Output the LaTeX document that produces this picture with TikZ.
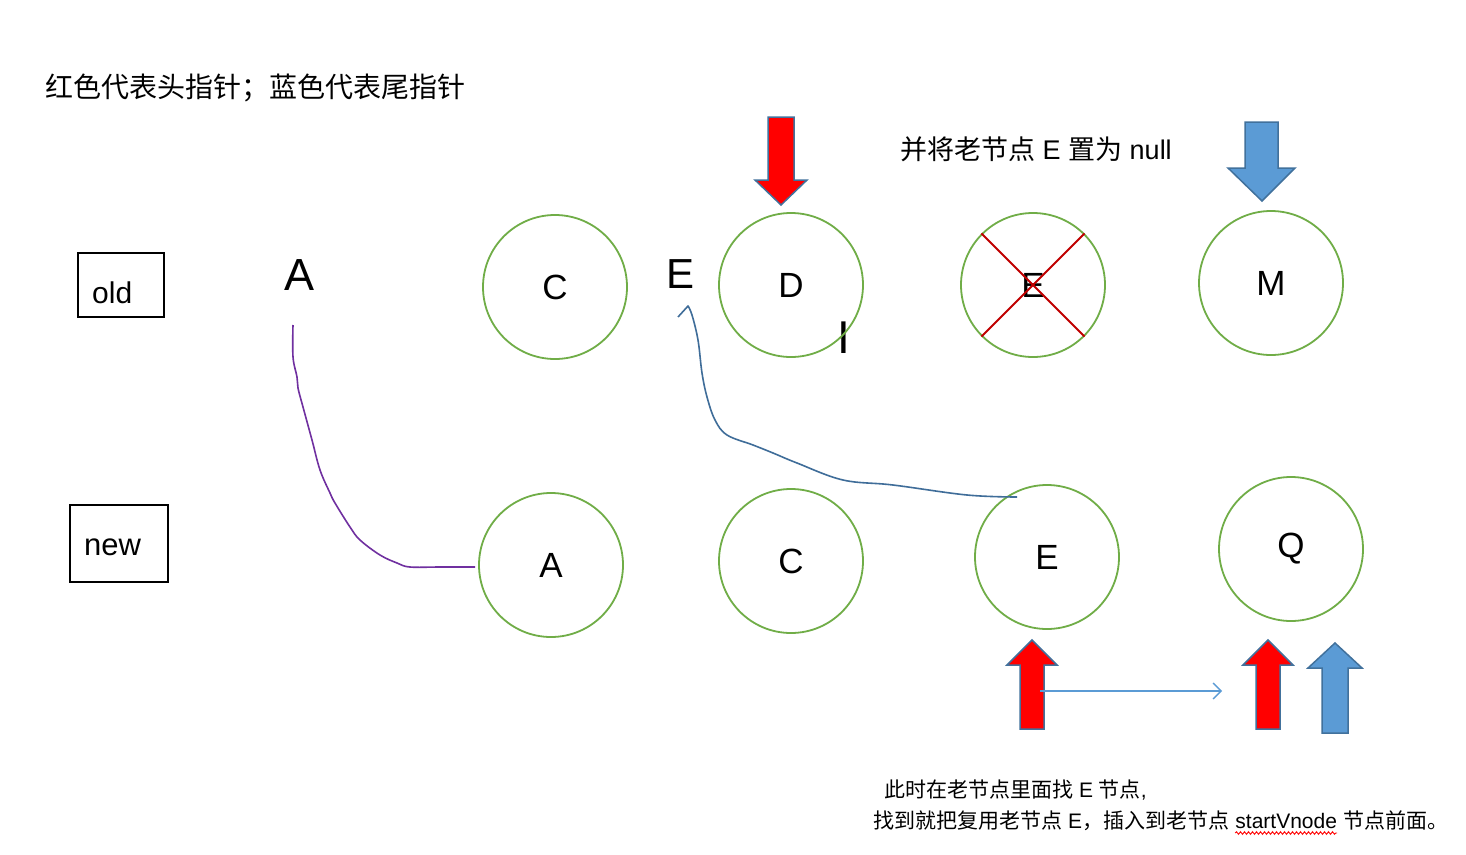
\documentclass[tikz,border=0pt]{standalone}
\usepackage{fontspec}
\setmainfont{Liberation Sans}
\newfontfamily\cjk{Noto Sans CJK SC}
\usetikzlibrary{arrows.meta,decorations.pathmorphing}
\definecolor{cgreen}{HTML}{70AD47}
\definecolor{cred}{HTML}{FF0000}
\definecolor{cblue}{HTML}{5B9BD5}
\definecolor{cborder}{HTML}{41719C}
\definecolor{cpurple}{HTML}{7030A0}
\definecolor{ccurve}{HTML}{3F6D99}
\definecolor{cx}{HTML}{C00000}
\begin{document}
\begin{tikzpicture}[x=1pt,y=-1pt,
  circ/.style={circle,draw=cgreen,line width=1.8pt,minimum size=144pt,inner sep=0pt,font=\fontsize{35}{40}\selectfont},
  box/.style={draw=black,line width=1.8pt,inner sep=0pt},
  txt/.style={inner sep=0pt},
  redarrow/.style={fill=cred,draw=cborder,line width=1.5pt,line join=miter},
  bluearrow/.style={fill=cblue,draw=cborder,line width=1.5pt,line join=miter}]
\useasboundingbox (0,0) rectangle (1466,854);
\fill[white] (0,0) rectangle (1466,854);

% title
\node[txt,anchor=west,font=\cjk\fontsize{28}{32}\selectfont] (title) at (45,88) {红色代表头指针；蓝色代表尾指针};
\node[txt,anchor=west,font=\fontsize{27}{32}\selectfont] (nullnote) at (900,149) {{\cjk 并将老节点} E {\cjk 置为} null};

% boxes
\node[box,minimum width=86pt,minimum height=64pt] (oldbox) at (121,285) {};
\node[txt,anchor=west,font=\fontsize{30}{36}\selectfont] (oldtxt) at (92,293) {old};
\node[box,minimum width=98pt,minimum height=77pt] (newbox) at (119,543.5) {};
\node[txt,anchor=west,font=\fontsize{31}{36}\selectfont] (newtxt) at (84,547) {new};

% loose labels
\node[txt,font=\fontsize{45}{50}\selectfont] (lblA) at (300,275) {A};
\node[txt,font=\fontsize{42}{48}\selectfont] (lblE) at (680,274) {E};
\node[txt,font=\fontsize{46}{50}\selectfont] (lblI) at (844,338) {I};

% old row
\node[circ] (oC) at (555,287) {C};
\node[circ] (oD) at (791,285) {D};
\node[circ] (oE) at (1033,285) {E};
\node[circ] (oM) at (1271,283) {M};
\draw[cx,line width=1.8pt] (oE.135) -- (oE.-45);
\draw[cx,line width=1.8pt] (oE.45) -- (oE.-135);

% new row
\node[circ] (nA) at (551,565) {A};
\node[circ] (nC) at (791,561) {C};
\node[circ] (nE) at (1047,557) {E};
\node[circ] (nQ) at (1291,549) {Q};

% hand-drawn connectors
\coordinate (pA) at (293,325);
\draw[cpurple,line width=1.6pt] (pA) -- plot[smooth,tension=0.6] coordinates {(293,325) (293,357) (297,377) (298,388) (303,407) (312,440) (320,470) (330,493) (335,503) (350,527) (360,540) (380,555) (397,563) (410,567) (440,567) (475,567)};
\coordinate (pE0) at (678,317);
\coordinate (pE1) at (688,306);
\draw[ccurve,line width=1.6pt,line join=round] (pE0) -- (pE1) -- plot[smooth,tension=0.6] coordinates {(688,306) (692,315) (698,340) (702,373) (707,397) (715,420) (727,435) (753,445) (773,453) (797,463) (843,480) (893,485) (967,495) (1017,497)};

% pointer arrows
\draw[redarrow] (768,117) -- (794,117) -- (794,180) -- (807,180) -- (781,205) -- (755,180) -- (768,180) -- cycle;
\draw[bluearrow] (1245,122) -- (1278,122) -- (1278,168) -- (1295,168) -- (1262,201) -- (1228,168) -- (1245,168) -- cycle;
\draw[redarrow] (1020,729) -- (1044,729) -- (1044,665) -- (1057,665) -- (1032,640) -- (1007,665) -- (1020,665) -- cycle;
\draw[redarrow] (1256,729) -- (1280,729) -- (1280,665) -- (1293,665) -- (1268,640) -- (1243,665) -- (1256,665) -- cycle;
\draw[bluearrow] (1322,733) -- (1348,733) -- (1348,668) -- (1362,668) -- (1335,643) -- (1308,668) -- (1322,668) -- cycle;

\coordinate (ts) at (1040,691);
\coordinate (te) at (1222,691);
\draw[cblue,line width=1.3pt,-{Straight Barb[length=8pt,width=16pt]}] (ts) -- (te);

% bottom notes
\node[txt,anchor=base west,font=\fontsize{21}{24}\selectfont] (l1) at (884,797) {{\cjk 此时在老节点里面找} E {\cjk 节点},};
\node[txt,anchor=base west,font=\fontsize{21}{24}\selectfont] (l2a) at (873,828) {{\cjk 找到就把复用老节点} E{\cjk ，插入到老节点}};
\node[txt,anchor=base west,font=\fontsize{21}{24}\selectfont] (sv) at ([xshift=6pt]l2a.base east) {startVnode};
\node[txt,anchor=base west,font=\fontsize{21}{24}\selectfont] (l2c) at ([xshift=6pt]sv.base east) {{\cjk 节点前面。}};
\draw[cred,line width=0.9pt,decorate,decoration={snake,amplitude=1.3pt,segment length=4pt}] ([yshift=-5pt]sv.base west) -- ([yshift=-5pt]sv.base east);
\end{tikzpicture}
\end{document}
